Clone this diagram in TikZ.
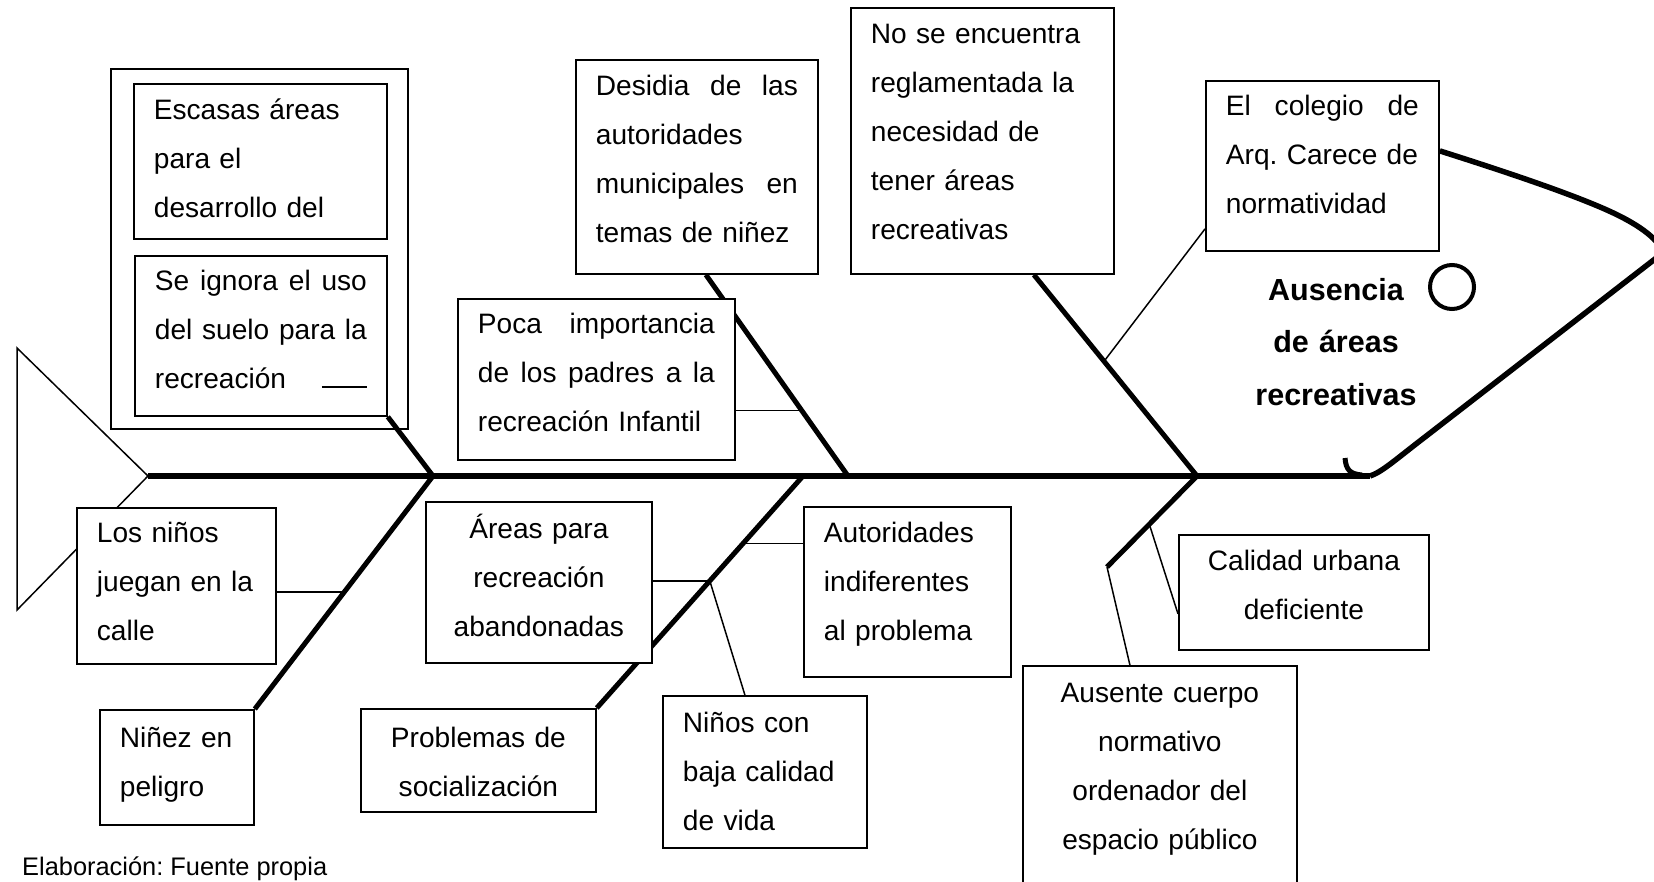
\documentclass[tikz,border=0pt]{standalone}
\usepackage{fontspec}
\setmainfont{Liberation Sans}
\usetikzlibrary{calc,backgrounds}
\frenchspacing
\newcommand\hs{\rule{0pt}{30pt}}
\newcommand\dsp[1]{\rule[-#1pt]{0pt}{#1pt}}
\newcommand\jl[1]{\leavevmode\hbox to \hsize{#1}}
\begin{document}
\begin{tikzpicture}[x=1pt,y=-1pt,
  box/.style={draw,line width=1.8pt,fill=white,anchor=north west,inner xsep=20pt,inner ysep=0pt,font=\fontsize{28.1}{49}\selectfont},
  lbox/.style={box,align=left},
  cbox/.style={box,align=center},
  bone/.style={line width=5pt},
  spine/.style={line width=6pt},
  thinline/.style={line width=1.5pt},
  headline/.style={line width=5.5pt,line join=round}
]
\useasboundingbox (0,0) rectangle (1654,881);
\clip (0,0) rectangle (1654,881);

% ---- boxes ----
\node[draw,line width=1.8pt,anchor=north west,minimum width=297pt,minimum height=360pt,inner sep=0pt] (grp) at (110,68) {};
\node[lbox,text width=213pt,minimum height=155pt] (A1) at (133,83) {\hs Escasas áreas\\para el\\desarrollo del\dsp{15}};
\node[lbox,text width=212pt,minimum height=160pt] (A2) at (134,255) {\hs\jl{Se\hfil ignora\hfil el\hfil uso}\\\jl{del\hfil suelo\hfil para\hfil la}\\recreación\dsp{22}};
\node[lbox,text width=202pt,minimum height=214pt] (desidia) at (575,59) {\hs\jl{Desidia\hfil de\hfil las}\\autoridades\\\jl{municipales\hfil en}\\temas de niñez\dsp{25}};
\node[lbox,text width=237pt,minimum height=161pt] (poca) at (457,298) {\hs\jl{Poca\hfil importancia}\\\jl{de\hfil los\hfil padres\hfil a\hfil la}\\recreación Infantil\dsp{23}};
\node[lbox,text width=223pt,minimum height=266pt] (nose) at (850,7) {\hs No se encuentra\\reglamentada la\\necesidad de\\tener áreas\\recreativas\dsp{28}};
\node[lbox,text width=193pt,minimum height=170pt] (colegio) at (1205,80) {\hs\jl{El\hfil colegio\hfil de}\\\mbox{Arq. Carece de}\\normatividad\dsp{32}};
\node[lbox,text width=159pt,minimum height=156pt] (ninos) at (76,507) {\hs Los niños\\juegan en la\\calle\dsp{18}};
\node[lbox,text width=114pt,minimum height=115pt] (ninez) at (99,709) {\hs Niñez en\\peligro\dsp{20}};
\node[cbox,text width=186pt,minimum height=161pt] (areas) at (425,501) {\hs Áreas para\\recreación\\abandonadas\dsp{19}};
\node[cbox,text width=195pt,minimum height=103pt] (problemas) at (360,708) {\hs Problemas de\\socialización\dsp{6}};
\node[lbox,text width=164pt,minimum height=152pt] (ninoscon) at (662,695) {\hs Niños con\\baja calidad\\de vida\dsp{10}};
\node[lbox,text width=167pt,minimum height=170pt] (autoridades) at (803,506) {\hs Autoridades\\indiferentes\\al problema\dsp{30}};
\node[cbox,text width=210pt,minimum height=115pt] (calidad) at (1178,534) {\hs Calidad urbana\\deficiente\dsp{24}};
\node[cbox,text width=234pt,minimum height=235pt] (ausente) at (1022,665) {\hs Ausente cuerpo\\normativo\\ordenador del\\espacio público\dsp{44}};

\node[align=center,text width=220pt,inner sep=0pt,font=\bfseries\fontsize{30.5}{52.5}\selectfont] (effect) at (1336,352.5) {\hs Ausencia\\de áreas\\recreativas\dsp{30}};
\node[draw,circle,line width=4pt,minimum size=44pt,inner sep=0pt] (dot) at (1452,287) {};
\node[anchor=base west,inner sep=0pt,font=\fontsize{25.4}{30}\selectfont] (cap) at (22,875) {Elaboración: Fuente propia};

% ---- skeleton ----
\coordinate (t1) at (17,348);
\coordinate (t2) at (17,610);
\coordinate (sp0) at (148,476);
\coordinate (sp1) at (1370,476);
\coordinate (j1) at (433,476);
\coordinate (j2u) at (848,476);
\coordinate (j2l) at (803,476);
\coordinate (j3) at (1197,476);
\coordinate (k3) at (1107,567);
\coordinate (b2top) at ([xshift=9pt]desidia.south);
\coordinate (b3top) at ([xshift=51.5pt]nose.south);

\begin{scope}[on background layer]
  \draw[thinline] (t1) -- (sp0) -- (t2) -- cycle;
  \draw[spine] (sp0) -- (sp1);
  % bone 1
  \draw[bone] (A2.south east) -- (j1);
  \draw[bone] (j1) -- (ninez.north east);
  % bone 2
  \draw[bone] (b2top) -- (j2u);
  \draw[bone] (j2l) -- (problemas.north east);
  % bone 3
  \draw[bone] (b3top) -- (j3);
  \draw[bone] (j3) -- (k3);
  \draw[thinline] (k3) -- ([xshift=-30pt]ausente.north);
  % thin connectors
  \coordinate (c1) at ($(j1)!0.498!(ninez.north east)$);
  \draw[thinline] (c1) -- (c1 -| ninos.east);
  \coordinate (c2) at ($(b2top)!0.675!(j2u)$);
  \draw[thinline] (c2) -- (c2 -| poca.east);
  \coordinate (c3) at ($(j2l)!0.452!(problemas.north east)$);
  \draw[thinline] (c3) -- (c3 -| areas.east);
  \draw[thinline] (c3) -- ([xshift=-20pt]ninoscon.north);
  \coordinate (c4) at ($(j2l)!0.291!(problemas.north east)$);
  \draw[thinline] (c4) -- (c4 -| autoridades.west);
  \coordinate (c5) at ($(b3top)!0.43!(j3)$);
  \draw[thinline] (c5) -- ([yshift=-63pt]colegio.west);
  \coordinate (c6) at ($(j3)!0.53!(k3)$);
  \draw[thinline] (c6) -- ([yshift=-21.5pt]calidad.west);
  % head
  \draw[headline] ([yshift=15pt]colegio.east) .. controls (1500,170) and (1560,190) .. (1600,207)
     .. controls (1640,224) and (1656,238) .. (1664,252) -- (1425,437)
     .. controls (1395,460) and (1382,472) .. (sp1);
  \draw[line width=5pt] (1345,458) .. controls (1346,470) and (1350,474) .. (1362,475);
\end{scope}
\draw[thinline] ([xshift=-66pt,yshift=30pt]A2.south east) -- ++(45,0);
\end{tikzpicture}
\end{document}
